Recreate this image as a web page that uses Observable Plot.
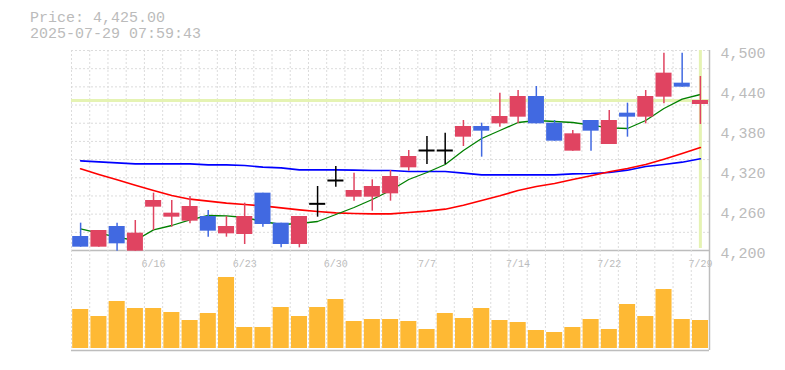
<!DOCTYPE html>
<html>
<head>
<meta charset="utf-8">
<script src="https://cdn.jsdelivr.net/npm/d3@7"></script>
<script src="https://cdn.jsdelivr.net/npm/@observablehq/plot@0.6"></script>
<style>
  body { margin: 0; background: #fff; }
  #wrap { position: relative; width: 785px; height: 370px; overflow: hidden; font-family: "Liberation Mono", monospace; }
  #wrap svg { position: absolute; left: 0; }
  .t { position: absolute; left: 30px; font-size: 15px; line-height: 16px; color: #bbb; white-space: pre; }
</style>
</head>
<body>
<div id="wrap">
  <div class="t" id="t1" style="top:11px"></div>
  <div class="t" id="t2" style="top:27px"></div>
</div>
<script>
// ---- data ----
const priceText = "Price: 4,425.00";
const timeText = "2025-07-29 07:59:43";

const dates = ["6/10","6/11","6/12","6/13","6/16","6/17","6/18","6/19","6/20",
  "6/23","6/24","6/25","6/26","6/27","6/30","7/1","7/2","7/3","7/4",
  "7/7","7/8","7/9","7/10","7/11","7/14","7/15","7/16","7/17","7/18",
  "7/22","7/23","7/24","7/25","7/28","7/29"];
const tickLabels = ["6/16","6/23","6/30","7/7","7/14","7/22","7/29"];
const yTicks = [4200, 4260, 4320, 4380, 4440, 4500];

const open  = [4221,4205,4236,4199,4265,4250,4244,4251,4225,4224,4286,4241,4209,4270,4305,4280,4280,4285,4324,4350,4350,4370,4386,4390,4400,4431,4391,4349,4395,4359,4406,4400,4430,4451,4419];
const high  = [4241,4230,4241,4245,4286,4275,4281,4260,4251,4271,4286,4241,4251,4296,4326,4316,4306,4320,4350,4371,4376,4395,4391,4436,4440,4446,4395,4380,4395,4410,4421,4440,4496,4496,4461];
const low   = [4205,4205,4199,4199,4230,4235,4240,4220,4220,4209,4235,4204,4204,4250,4295,4274,4259,4274,4319,4329,4329,4356,4340,4385,4390,4390,4364,4349,4349,4359,4370,4390,4420,4445,4389];
const close = [4205,4230,4210,4226,4275,4256,4266,4229,4236,4251,4239,4209,4251,4270,4305,4290,4296,4311,4341,4350,4350,4386,4379,4401,4431,4390,4364,4375,4379,4395,4400,4431,4466,4445,4425];

const ma5  = [4232.5,4226,4220,4215,4231,4237.5,4246,4252.5,4252,4249.5,4243.5,4239,4240.5,4243.5,4254,4264.5,4276.5,4290,4306.5,4317,4329,4350,4368,4380,4392,4395,4393.5,4392,4388,4384,4383,4395,4413,4427,4434];
const ma25 = [4322.5,4314,4306,4298,4290,4282.5,4277,4274,4271,4269,4267,4264,4261,4258.5,4256.5,4255.5,4255,4255,4257,4259,4262,4268,4275,4282,4290,4296,4300.5,4306.5,4312,4318,4323,4329,4337,4345.5,4354.5];
const ma75 = [4334.5,4333,4331.5,4330,4330,4330,4330,4328.5,4328.5,4327.5,4325,4324,4321,4321,4321,4320.5,4320,4320,4318.5,4318.5,4318.5,4316,4313.5,4313.5,4313.5,4313.5,4313.5,4315,4315.5,4317,4320.5,4326,4329,4332.5,4337.5];

const volume = [39000,32000,47000,40000,40000,36000,28000,35000,71000,21000,21000,41000,32000,41000,49000,27000,29000,29000,27000,19000,35000,30000,40000,28000,26000,18000,16000,21000,29000,19000,44000,32000,59000,29000,28000];

// ---- build ----
document.getElementById("t1").textContent = priceText;
document.getElementById("t2").textContent = timeText;

const n = dates.length;
const rows = d3.range(n).map(i => ({
  i, date: dates[i], open: open[i], high: high[i], low: low[i], close: close[i],
  vol: volume[i], ma5: ma5[i], ma25: ma25[i], ma75: ma75[i]
}));
const UP = "#e04461", DOWN = "#4169e1", FLAT = "#000000";
const col = d => d.close > d.open ? UP : d.close < d.open ? DOWN : FLAT;
const xDomain = [-0.5, n - 0.5];
const gridX = d3.range(n).map(i => i - 0.5);
const gridY = d3.range(1, 12).map(k => 4200 + k * 300 / 11);
const tickIdx = tickLabels.map(t => dates.indexOf(t));
const last = rows[n - 1];
const GRID = {stroke: "#dcdcdc", strokeDasharray: "2,2", strokeWidth: 1};
const HL = "#e5f3b3";
const FRAME = "#bdbdbd";

const pricePlot = Plot.plot({
  width: 785, height: 270,
  marginTop: 50, marginBottom: 20, marginLeft: 71, marginRight: 76,
  style: {fontFamily: "Liberation Mono", background: "transparent", overflow: "visible"},
  x: {domain: xDomain},
  y: {domain: [4200, 4500]},
  color: {type: "identity"},
  marks: [
    Plot.ruleX(gridX, GRID),
    Plot.ruleY(gridY, GRID),
    Plot.ruleY([last.close], {stroke: HL, strokeWidth: 3}),
    Plot.ruleX([last.i], {stroke: HL, strokeWidth: 3, insetBottom: 2}),
    Plot.ruleY([4200], {stroke: FRAME, strokeWidth: 1.5}),
    Plot.ruleX([n - 0.5], {stroke: FRAME, strokeWidth: 1.5}),
    Plot.line(rows, {x: "i", y: "ma75", stroke: "#0000ff", strokeWidth: 1.6}),
    Plot.line(rows, {x: "i", y: "ma25", stroke: "#ff0000", strokeWidth: 1.6}),
    Plot.line(rows, {x: "i", y: "ma5", stroke: "#008000", strokeWidth: 1.3}),
    Plot.ruleX(rows, {x: "i", y1: "low", y2: "high", stroke: col, strokeWidth: 1.5}),
    Plot.rect(rows.filter(d => d.open !== d.close), {
      x1: d => d.i - 0.5, x2: d => d.i + 0.5, y1: "open", y2: "close",
      fill: col, insetLeft: 1.2, insetRight: 1
    }),
    Plot.ruleY(rows.filter(d => d.open === d.close), {
      y: "close", x1: d => d.i - 0.5, x2: d => d.i + 0.5,
      stroke: FLAT, strokeWidth: 2, insetLeft: 1.2, insetRight: 1
    }),
    Plot.axisY({
      anchor: "right", ticks: yTicks, tickSize: 0, tickPadding: 11,
      tickFormat: d3.format(","), fontSize: 15, color: "#bbb", dy: 3, label: null
    }),
    Plot.axisX({
      ticks: tickIdx, tickSize: 0, tickPadding: 9,
      tickFormat: i => dates[i], fontSize: 10, color: "#bbb", label: null
    })
  ]
});
pricePlot.style.top = "0px";

const volPlot = Plot.plot({
  width: 785, height: 102,
  marginTop: 0, marginBottom: 4, marginLeft: 71, marginRight: 76,
  style: {fontFamily: "Liberation Mono", background: "transparent", overflow: "visible"},
  x: {domain: xDomain, axis: null},
  y: {domain: [0, 98000], axis: null},
  marks: [
    Plot.ruleX(gridX, GRID),
    Plot.rect(rows, {
      x1: d => d.i - 0.5, x2: d => d.i + 0.5, y1: d => 0, y2: "vol",
      fill: "#feb934", insetLeft: 1.2, insetRight: 1
    }),
    Plot.ruleY([0], {stroke: FRAME, strokeWidth: 1.5, dy: 2}),
    Plot.ruleX([n - 0.5], {stroke: FRAME, strokeWidth: 1.5, insetBottom: -2})
  ]
});
volPlot.style.top = "250px";

const wrap = document.getElementById("wrap");
wrap.insertBefore(volPlot, wrap.firstChild);
wrap.insertBefore(pricePlot, wrap.firstChild);
</script>
</body>
</html>
